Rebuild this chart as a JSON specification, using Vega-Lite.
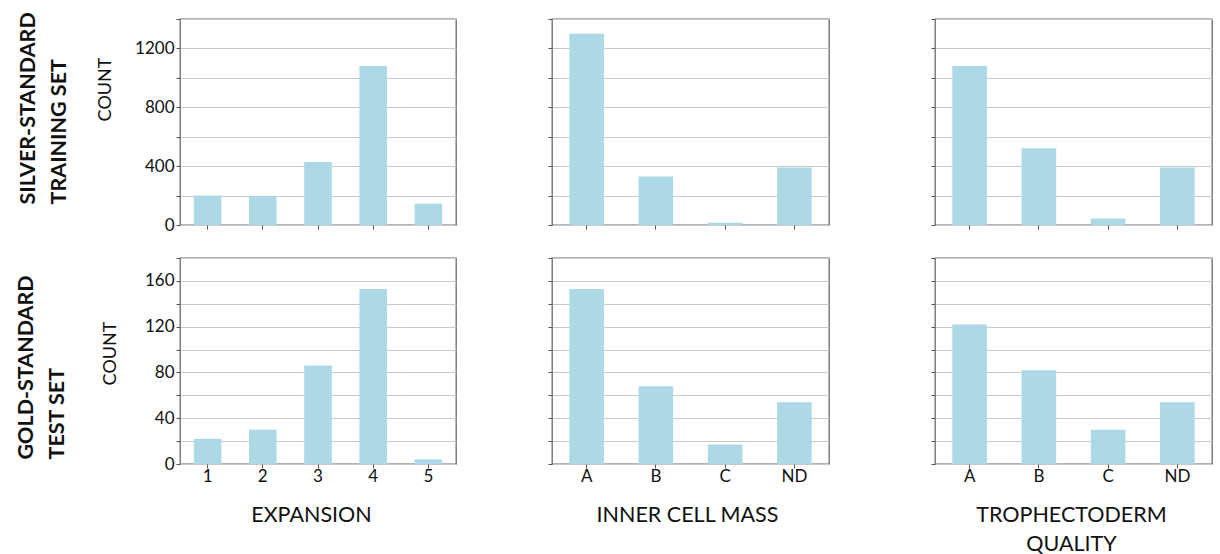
{
  "$schema": "https://vega.github.io/schema/vega-lite/v6.json",
  "background": "white",
  "padding": {"left": 14, "top": 11, "right": 0, "bottom": 0},
  "data": {"values": [
    {"set": "train", "attr": "exp", "cat": "1", "count": 200},
    {"set": "train", "attr": "exp", "cat": "2", "count": 195},
    {"set": "train", "attr": "exp", "cat": "3", "count": 428},
    {"set": "train", "attr": "exp", "cat": "4", "count": 1080},
    {"set": "train", "attr": "exp", "cat": "5", "count": 145},
    {"set": "train", "attr": "icm", "cat": "A", "count": 1300},
    {"set": "train", "attr": "icm", "cat": "B", "count": 330},
    {"set": "train", "attr": "icm", "cat": "C", "count": 15},
    {"set": "train", "attr": "icm", "cat": "ND", "count": 390},
    {"set": "train", "attr": "te", "cat": "A", "count": 1080},
    {"set": "train", "attr": "te", "cat": "B", "count": 522},
    {"set": "train", "attr": "te", "cat": "C", "count": 45},
    {"set": "train", "attr": "te", "cat": "ND", "count": 390},
    {"set": "test", "attr": "exp", "cat": "1", "count": 22},
    {"set": "test", "attr": "exp", "cat": "2", "count": 30},
    {"set": "test", "attr": "exp", "cat": "3", "count": 86},
    {"set": "test", "attr": "exp", "cat": "4", "count": 153},
    {"set": "test", "attr": "exp", "cat": "5", "count": 4},
    {"set": "test", "attr": "icm", "cat": "A", "count": 153},
    {"set": "test", "attr": "icm", "cat": "B", "count": 68},
    {"set": "test", "attr": "icm", "cat": "C", "count": 17},
    {"set": "test", "attr": "icm", "cat": "ND", "count": 54},
    {"set": "test", "attr": "te", "cat": "A", "count": 122},
    {"set": "test", "attr": "te", "cat": "B", "count": 82},
    {"set": "test", "attr": "te", "cat": "C", "count": 30},
    {"set": "test", "attr": "te", "cat": "ND", "count": 54}
  ]},
  "config": {
    "font": "Lato",
    "view": {"stroke": "#6a6a6a", "strokeWidth": 1.3},
    "axis": {"labelFont": "Lato", "titleFont": "Lato", "labelFontSize": 17, "titleFontSize": 21.5, "titleFontWeight": "normal", "labelColor": "#111", "titleColor": "#111", "tickColor": "#555", "tickSize": 4, "domain": false, "gridColor": "#c9c9c9", "gridWidth": 1},
    "axisX": {"grid": false, "labelAngle": 0, "labelPadding": 0},
    "bar": {"color": "#add8e6"}
  },
  "vconcat": [
    {
      "hconcat": [
        {
          "width": 276, "height": 206,
          "transform": [{"filter": "datum.set === 'train' && datum.attr === 'exp'"}],
          "layer": [
            {"mark": "bar",
             "encoding": {
               "x": {"field": "cat", "type": "ordinal", "scale": {"paddingInner": 0.5, "paddingOuter": 0.25}, "axis": {"labels": false, "title": null}},
               "y": {"field": "count", "type": "quantitative", "scale": {"domain": [0, 1400], "nice": false}, "axis": {"orient": "left", "values": [0, 200, 400, 600, 800, 1000, 1200, 1400], "labelExpr": "datum.value % 400 === 0 ? '' + datum.value : ''", "title": "COUNT", "titleFontSize": 18, "titlePadding": 20, "titleY": 70, "titleAlign": "center"}}
             }},
            {"mark": {"type": "bar", "opacity": 0},
             "encoding": {
               "x": {"field": "cat", "type": "ordinal"},
               "y": {"field": "count", "type": "quantitative", "axis": {"orient": "left", "offset": 110, "domain": false, "ticks": false, "labels": false, "grid": false, "title": ["SILVER-STANDARD", "TRAINING SET"], "titleFontWeight": "bold", "titleFontSize": 21.5, "titleY": 185, "titleAlign": "left", "titleBaseline": "bottom", "titlePadding": 0, "titleLineHeight": 31}}
             }}
          ],
          "resolve": {"axis": {"y": "independent"}}
        },
        {
          "hconcat": [
            {
              "width": 277, "height": 206,
              "transform": [{"filter": "datum.set === 'train' && datum.attr === 'icm'"}],
              "mark": "bar",
              "encoding": {
                "x": {"field": "cat", "type": "ordinal", "scale": {"paddingInner": 0.5, "paddingOuter": 0.25}, "axis": {"labels": false, "title": null}},
                "y": {"field": "count", "type": "quantitative", "scale": {"domain": [0, 1400], "nice": false}, "axis": {"values": [0, 200, 400, 600, 800, 1000, 1200, 1400], "labels": false, "title": null}}
              }
            },
            {
              "width": 277, "height": 206,
              "transform": [{"filter": "datum.set === 'train' && datum.attr === 'te'"}],
              "mark": "bar",
              "encoding": {
                "x": {"field": "cat", "type": "ordinal", "scale": {"paddingInner": 0.5, "paddingOuter": 0.25}, "axis": {"labels": false, "title": null}},
                "y": {"field": "count", "type": "quantitative", "scale": {"domain": [0, 1400], "nice": false}, "axis": {"values": [0, 200, 400, 600, 800, 1000, 1200, 1400], "labels": false, "title": null}}
              }
            }
          ],
          "spacing": 106,
          "bounds": "flush"
        }
      ],
      "spacing": 96,
      "bounds": "flush"
    },
    {
      "hconcat": [
        {
          "width": 276, "height": 206,
          "transform": [{"filter": "datum.set === 'test' && datum.attr === 'exp'"}],
          "layer": [
            {"mark": "bar",
             "encoding": {
               "x": {"field": "cat", "type": "ordinal", "scale": {"paddingInner": 0.5, "paddingOuter": 0.25}, "axis": {"title": "EXPANSION", "titlePadding": 20, "titleX": 131, "titleAlign": "center"}},
               "y": {"field": "count", "type": "quantitative", "scale": {"domain": [0, 180], "nice": false}, "axis": {"orient": "left", "values": [0, 20, 40, 60, 80, 100, 120, 140, 160, 180], "labelExpr": "datum.value % 40 === 0 ? '' + datum.value : ''", "title": "COUNT", "titleFontSize": 18, "titlePadding": 25, "titleY": 95, "titleAlign": "center"}}
             }},
            {"mark": {"type": "bar", "opacity": 0},
             "encoding": {
               "x": {"field": "cat", "type": "ordinal"},
               "y": {"field": "count", "type": "quantitative", "axis": {"orient": "left", "offset": 112, "domain": false, "ticks": false, "labels": false, "grid": false, "title": ["GOLD-STANDARD", "TEST SET"], "titleFontWeight": "bold", "titleFontSize": 21.5, "titleY": 201, "titleAlign": "left", "titleBaseline": "bottom", "titlePadding": 0, "titleLineHeight": 31}}
             }}
          ],
          "resolve": {"axis": {"y": "independent"}}
        },
        {
          "hconcat": [
            {
              "width": 277, "height": 206,
              "transform": [{"filter": "datum.set === 'test' && datum.attr === 'icm'"}],
              "mark": "bar",
              "encoding": {
                "x": {"field": "cat", "type": "ordinal", "scale": {"paddingInner": 0.5, "paddingOuter": 0.25}, "axis": {"title": "INNER CELL MASS", "titlePadding": 20, "titleX": 135, "titleAlign": "center"}},
                "y": {"field": "count", "type": "quantitative", "scale": {"domain": [0, 180], "nice": false}, "axis": {"values": [0, 20, 40, 60, 80, 100, 120, 140, 160, 180], "labels": false, "title": null}}
              }
            },
            {
              "width": 277, "height": 206,
              "transform": [{"filter": "datum.set === 'test' && datum.attr === 'te'"}],
              "mark": "bar",
              "encoding": {
                "x": {"field": "cat", "type": "ordinal", "scale": {"paddingInner": 0.5, "paddingOuter": 0.25}, "axis": {"title": ["TROPHECTODERM", "QUALITY"], "titlePadding": 20, "titleLineHeight": 29, "titleX": 136, "titleAlign": "center"}},
                "y": {"field": "count", "type": "quantitative", "scale": {"domain": [0, 180], "nice": false}, "axis": {"values": [0, 20, 40, 60, 80, 100, 120, 140, 160, 180], "labels": false, "title": null}}
              }
            }
          ],
          "spacing": 106,
          "bounds": "flush"
        }
      ],
      "spacing": 96,
      "bounds": "flush"
    }
  ],
  "spacing": 22
}
